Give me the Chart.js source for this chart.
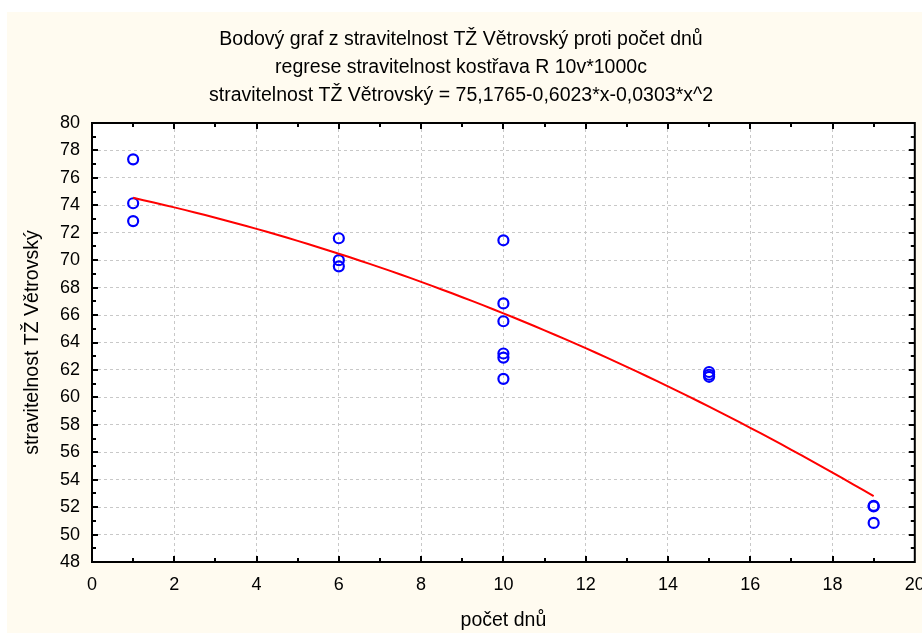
<!DOCTYPE html>
<html>
<head>
<meta charset="utf-8">
<title>Bodový graf</title>
<script src="https://cdn.jsdelivr.net/npm/chart.js@4.4.1/dist/chart.umd.min.js"></script>
<style>
  html, body { margin: 0; padding: 0; background: #ffffff; }
  #panel {
    position: absolute; left: 7px; top: 12px;
    width: 915px; height: 621px;
    background: #fffbf0;
  }
  #scatterChart { display: block; }
</style>
</head>
<body>
<div id="panel"><canvas id="scatterChart" width="915" height="621"></canvas></div>
<script>
// measured points: day count vs. digestibility
const dayValues = [1, 1, 1, 6, 6, 6, 10, 10, 10, 10, 10, 10, 15, 15, 15, 19, 19, 19];
const digestValues = [77.35, 74.15, 72.85, 71.6, 70.0, 69.55, 71.45, 66.85, 65.55, 63.2, 62.9, 61.35,
                      61.85, 61.65, 61.5, 52.1, 52.05, 50.85];

// quadratic regression coefficients (a + b*x + c*x^2), as printed in the title
const fitCoefs = [75.1765, -0.6023, -0.0303];
const fitRange = [1, 19];

const titleLines = [
  "Bodový graf z stravitelnost TŽ Větrovský proti počet dnů",
  "regrese stravitelnost kostřava R 10v*1000c",
  "stravitelnost TŽ Větrovský = 75,1765-0,6023*x-0,0303*x^2"
];
const xTitle = "počet dnů";
const yTitle = "stravitelnost TŽ Větrovský";
const xRange = [0, 20];
const yRange = [48, 80];

const FONT = "'Liberation Sans', Arial, sans-serif";
const TEXT_SIZE = 19.5;
const TICK_SIZE = 18;

function fitValue(x) {
  return fitCoefs[0] + fitCoefs[1] * x + fitCoefs[2] * x * x;
}

const points = dayValues.map((d, i) => ({ x: d, y: digestValues[i] }));
const fitLine = [];
for (let x = fitRange[0]; x <= fitRange[1] + 1e-9; x += 0.25) {
  fitLine.push({ x: x, y: fitValue(x) });
}

// white plot area, black frame and inward ticks on all four sides
const framePlugin = {
  id: 'frame',
  beforeDraw(chart) {
    const { ctx, chartArea: a } = chart;
    ctx.save();
    ctx.fillStyle = '#ffffff';
    ctx.fillRect(a.left, a.top, a.right - a.left, a.bottom - a.top);
    ctx.restore();
  },
  afterDraw(chart) {
    const { ctx, chartArea: a, scales } = chart;
    ctx.save();
    ctx.strokeStyle = '#000000';
    ctx.lineWidth = 2;
    ctx.beginPath();
    for (let v = xRange[0] + 1; v < xRange[1]; v++) {
      const px = Math.round(scales.x.getPixelForValue(v));
      const len = v % 2 === 0 ? 6 : 4;
      ctx.moveTo(px, a.bottom); ctx.lineTo(px, a.bottom - len);
      ctx.moveTo(px, a.top); ctx.lineTo(px, a.top + len);
    }
    for (let v = yRange[0] + 1; v < yRange[1]; v++) {
      const py = Math.round(scales.y.getPixelForValue(v));
      const len = v % 2 === 0 ? 6 : 4;
      ctx.moveTo(a.left, py); ctx.lineTo(a.left + len, py);
      ctx.moveTo(a.right, py); ctx.lineTo(a.right - len, py);
    }
    ctx.stroke();
    ctx.strokeRect(a.left, a.top, a.right - a.left, a.bottom - a.top);
    ctx.restore();
  }
};

const gridColor = (ctx) => {
  const v = ctx.tick ? ctx.tick.value : null;
  const s = ctx.scale;
  return (v === s.min || v === s.max) ? 'rgba(0,0,0,0)' : '#c8c8c8';
};

new Chart(document.getElementById('scatterChart'), {
  type: 'scatter',
  data: {
    datasets: [
      {
        label: 'fit',
        type: 'line',
        data: fitLine,
        borderColor: '#ff0000',
        borderWidth: 2,
        pointRadius: 0,
        fill: false,
        tension: 0,
        order: 0
      },
      {
        label: yTitle,
        data: points,
        borderColor: '#0000ff',
        backgroundColor: 'rgba(0,0,0,0)',
        borderWidth: 2.2,
        pointRadius: 5,
        pointHoverRadius: 5,
        order: 1
      }
    ]
  },
  options: {
    responsive: false,
    animation: false,
    layout: { padding: { left: 0, right: 7, top: 0, bottom: 0 } },
    plugins: {
      legend: { display: false },
      tooltip: { enabled: false },
      title: {
        display: true,
        text: titleLines,
        color: '#000000',
        font: { family: FONT, size: TEXT_SIZE, weight: 'normal', lineHeight: '28px' },
        padding: { top: 14, bottom: 13 }
      }
    },
    scales: {
      x: {
        type: 'linear',
        min: xRange[0], max: xRange[1],
        ticks: {
          stepSize: 2, color: '#000000', padding: 12,
          font: { family: FONT, size: TICK_SIZE },
          maxRotation: 0, autoSkip: false
        },
        grid: { color: gridColor, drawTicks: false, lineWidth: 1 },
        border: { display: false, dash: [3, 3] },
        title: {
          display: true, text: xTitle, color: '#000000',
          font: { family: FONT, size: TEXT_SIZE, lineHeight: 1.2 },
          padding: { top: 0, bottom: 1 }
        },
        afterFit(scale) {
          scale.height = 71;
          scale.paddingLeft = 0;
          scale.paddingRight = 0;
        }
      },
      y: {
        type: 'linear',
        min: yRange[0], max: yRange[1],
        ticks: {
          stepSize: 2, color: '#000000', padding: 12,
          font: { family: FONT, size: TICK_SIZE }
        },
        grid: { color: gridColor, drawTicks: false, lineWidth: 1 },
        border: { display: false, dash: [3, 3] },
        title: {
          display: true, text: yTitle, color: '#000000',
          font: { family: FONT, size: TEXT_SIZE, lineHeight: 1.2 },
          padding: { top: 14, bottom: 0 }
        },
        afterFit(scale) {
          scale.width = 85;
          scale.paddingTop = 0;
          scale.paddingBottom = 0;
        }
      }
    }
  },
  plugins: [framePlugin]
});
</script>
</body>
</html>
